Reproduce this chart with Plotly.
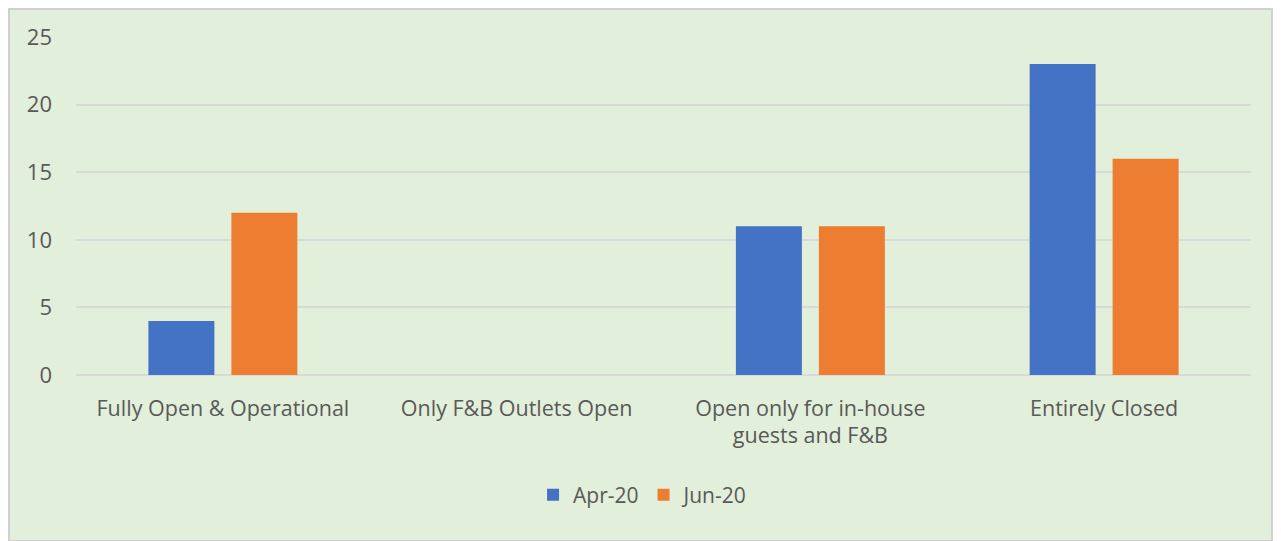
import plotly.graph_objects as go

# Dados
categorias = [
    "Fully Open & Operational",
    "Only F&B Outlets Open",
    "Open only for in-house<br>guests and F&B",
    "Entirely Closed",
]
apr_20 = [4, 0, 11, 23]
jun_20 = [12, 0, 11, 16]

FONTE = "'Open Sans', sans-serif"
CINZA = "#595959"

# A página tem margem de 8px no body: a figura é deslocada para compensar
L, R, T, B = 68, 22, 29, 167
W, H = 1265, 534
pw = W - L - R
ph = H - T - B

fig = go.Figure()

fig.add_trace(go.Bar(x=categorias, y=apr_20, name="Apr-20", marker=dict(color="#4472C4", line=dict(width=0))))
fig.add_trace(go.Bar(x=categorias, y=jun_20, name="Jun-20", marker=dict(color="#ED7D31", line=dict(width=0))))

# Moldura cinza em volta do gráfico
fig.add_shape(
    type="rect", xref="paper", yref="paper",
    x0=-(L - 1) / pw, x1=1 + (R - 1) / pw, y0=-(B - 1) / ph, y1=1 + (T - 1) / ph,
    fillcolor="rgba(0,0,0,0)", line=dict(color="#D0D0D0", width=2),
    layer="below",
)

fig.update_layout(
    width=W, height=H,
    margin=dict(l=L, r=R, t=T, b=B),
    paper_bgcolor="#E2EFDA",
    plot_bgcolor="rgba(0,0,0,0)",
    font=dict(family=FONTE, size=21, color=CINZA),
    barmode="group",
    bargap=0.435,
    bargroupgap=0.205,
    showlegend=True,
    legend=dict(
        orientation="h", x=0.4826, xanchor="center", y=-(495 - 375) / ph, yanchor="middle",
        font=dict(size=21, color=CINZA), bgcolor="rgba(0,0,0,0)",
        itemwidth=30, traceorder="normal",
    ),
)

fig.update_xaxes(
    showgrid=False, showline=False, zeroline=False,
    ticks="", ticklabelstandoff=18,
    tickfont=dict(size=21.5, color=CINZA),
)
fig.update_yaxes(
    range=[0, 25], dtick=5, showgrid=True, gridcolor="#D9D9D9", gridwidth=1.5,
    zeroline=True, zerolinecolor="#D9D9D9", zerolinewidth=1.5, showline=False,
    ticks="", ticklabelstandoff=23,
    tickfont=dict(size=22, color=CINZA),
)

fig.write_html("out.html")
